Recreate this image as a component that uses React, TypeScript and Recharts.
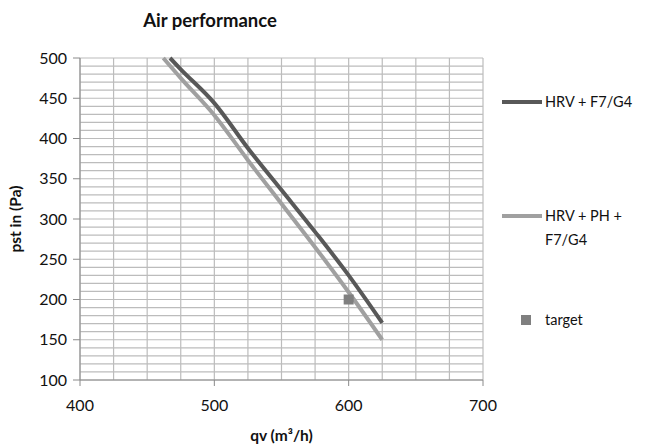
import React from "react";
import {
  CartesianGrid,
  ComposedChart,
  Line,
  Scatter,
  XAxis,
  YAxis,
} from "recharts";

// qv (m³/h) / pst (Pa)
const hrvQv = [467, 475, 500, 525, 550, 575, 600, 625];
const hrvPst = [500, 486, 444, 388, 336, 284, 230, 171];
const hrvPhQv = [462, 475, 500, 525, 550, 575, 600, 625];
const hrvPhPst = [500, 475, 429, 373, 319, 265, 209, 150];
const targetQv = [600];
const targetPst = [200];

const xTicks = [400, 425, 450, 475, 500, 525, 550, 575, 600, 625, 650, 675, 700];
const yTicks = [
  100, 110, 120, 130, 140, 150, 160, 170, 180, 190, 200, 210, 220, 230, 240, 250,
  260, 270, 280, 290, 300, 310, 320, 330, 340, 350, 360, 370, 380, 390, 400, 410,
  420, 430, 440, 450, 460, 470, 480, 490, 500,
];

const toPoints = (qv: number[], pst: number[]) => qv.map((q, i) => ({ qv: q, pst: pst[i] }));
const hrv = toPoints(hrvQv, hrvPst);
const hrvPh = toPoints(hrvPhQv, hrvPhPst);
const target = toPoints(targetQv, targetPst);

const FONT = "Lato, 'Open Sans', sans-serif";
const INK = "#111";
const DARK = "#585858";
const LIGHT = "#a0a0a0";
const TARGET = "#7f7f7f";
const GRID = "#bcbcbc";
const AXIS = "#8a8a8a";

const Y_TICK = 7;
const Y_MARGIN = 6;
const X_TICK = 6;
const X_MARGIN = 14;

// only every 50 Pa gets a label and a tick mark; the rest just feed the grid
function YTick(props: any) {
  const { x, y, payload } = props;
  if (payload.value % 50 !== 0) return null;
  const ax = x + Y_MARGIN;
  return (
    <g>
      <line x1={ax} x2={ax + Y_TICK} y1={y} y2={y} stroke={AXIS} />
      <text x={x} y={y} dy="0.35em" textAnchor="end" fontSize={16} fill={INK} fontFamily={FONT}>
        {payload.value}
      </text>
    </g>
  );
}

function XTick(props: any) {
  const { x, y, payload } = props;
  if (payload.value % 100 !== 0) return null;
  const ay = y - X_MARGIN - X_TICK;
  return (
    <g>
      <line x1={x} x2={x} y1={ay} y2={ay + X_TICK} stroke={AXIS} />
      <text x={x} y={y} dy="0.71em" textAnchor="middle" fontSize={16} fill={INK} fontFamily={FONT}>
        {payload.value}
      </text>
    </g>
  );
}

function TargetSquare(props: any) {
  const { cx, cy } = props;
  return <rect x={cx - 5} y={cy - 5} width={10} height={10} fill={TARGET} />;
}

const legendText: React.CSSProperties = {
  position: "absolute",
  left: 545,
  fontSize: 14.5,
  lineHeight: "24px",
  color: INK,
  fontFamily: FONT,
};

export default function App() {
  return (
    <div style={{ position: "relative", width: 645, height: 447, background: "#fff" }}>
      <style>{"body{margin:0}"}</style>
      <div
        style={{
          position: "absolute",
          left: 80,
          width: 260,
          top: 9,
          textAlign: "center",
          fontFamily: FONT,
          fontWeight: 700,
          fontSize: 18.5,
          color: INK,
        }}
      >
        Air performance
      </div>
      <ComposedChart width={645} height={447} margin={{ top: 58, right: 162, bottom: 37, left: 20 }}>
        <CartesianGrid stroke={GRID} strokeWidth={1.2} />
        <XAxis
          type="number"
          dataKey="qv"
          domain={[400, 700]}
          ticks={xTicks}
          interval={0}
          height={30}
          stroke={AXIS}
          tickLine={false}
          tickSize={X_TICK}
          tickMargin={X_MARGIN}
          tick={<XTick />}
          label={{
            value: "qv (m³/h)",
            position: "insideBottom",
            offset: -31,
            style: { fontFamily: FONT, fontWeight: 700, fontSize: 15.5, fill: INK },
          }}
        />
        <YAxis
          type="number"
          dataKey="pst"
          domain={[100, 500]}
          ticks={yTicks}
          interval={0}
          width={60}
          stroke={AXIS}
          tickLine={false}
          tickSize={Y_TICK}
          tickMargin={Y_MARGIN}
          tick={<YTick />}
          label={{
            value: "pst in (Pa)",
            angle: -90,
            position: "insideLeft",
            offset: -5,
            style: { textAnchor: "middle", fontFamily: FONT, fontWeight: 700, fontSize: 15.5, fill: INK },
          }}
        />
        <Line
          data={hrv}
          dataKey="pst"
          type="monotone"
          stroke={DARK}
          strokeWidth={4}
          dot={false}
          isAnimationActive={false}
        />
        <Line
          data={hrvPh}
          dataKey="pst"
          type="monotone"
          stroke={LIGHT}
          strokeWidth={4}
          dot={false}
          isAnimationActive={false}
        />
        <Scatter data={target} dataKey="pst" shape={<TargetSquare />} isAnimationActive={false} />
      </ComposedChart>

      <svg style={{ position: "absolute", left: 0, top: 0 }} width={645} height={447} pointerEvents="none">
        <line x1={502} x2={542} y1={102} y2={102} stroke={DARK} strokeWidth={4} />
        <line x1={502} x2={542} y1={216} y2={216} stroke={LIGHT} strokeWidth={4} />
        <rect x={521} y={315} width={10} height={10} fill={TARGET} />
      </svg>
      <div style={{ ...legendText, top: 90 }}>HRV + F7/G4</div>
      <div style={{ ...legendText, top: 204 }}>
        HRV + PH +
        <br />
        F7/G4
      </div>
      <div style={{ ...legendText, top: 308 }}>target</div>
    </div>
  );
}
